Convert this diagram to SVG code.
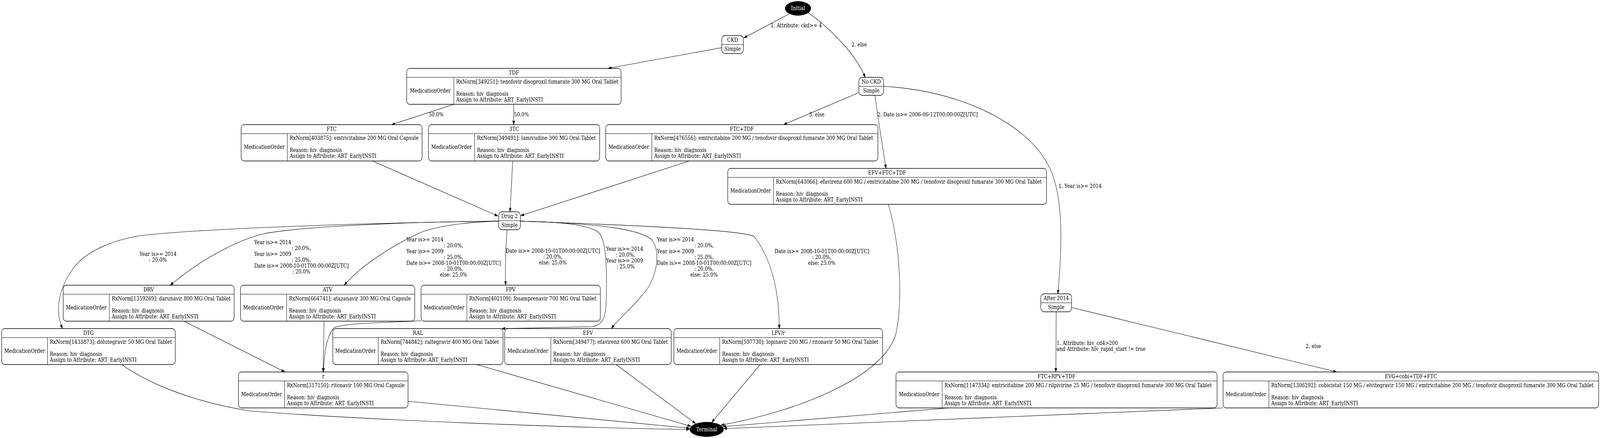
<svg xmlns="http://www.w3.org/2000/svg" width="4784" height="1121" viewBox="0 0 4784 1121" preserveAspectRatio="none">
<style>
svg{width:100vw;height:100vh;overflow:hidden}
.t{font-family:"DejaVu Serif","Liberation Serif",serif;font-size:14px;fill:#000}
.c{text-anchor:middle}
.w{fill:#fff}
.box{fill:none;stroke:#000;stroke-width:1.3}
.ln{stroke:#000;stroke-width:1.1}
.e{fill:none;stroke:#000;stroke-width:1.1;marker-end:url(#ah)}
</style>
<defs>
<marker id="ah" markerUnits="userSpaceOnUse" markerWidth="11" markerHeight="8" refX="10" refY="3.5" orient="auto" viewBox="0 0 11 8">
<path d="M0,0 L10,3.5 L0,7 z" fill="#000" stroke="#000" stroke-width="0.6"/>
</marker>
</defs>
<rect x="0" y="0" width="4784" height="1121" fill="#fff"/>
<g id="edges">
<path class="e" d="M2359,36 L2224,97"/>
<path class="e" d="M2415,32 C2480,70 2560,140 2587,198"/>
<path class="e" d="M2158,122 L1818,175"/>
<path class="e" d="M1357,267 L1171,319"/>
<path class="e" d="M1536,267 L1536,319"/>
<path class="e" d="M2568,237 L2343,319"/>
<path class="e" d="M2616,244 C2628,320 2640,380 2649,431"/>
<path class="e" d="M2642,221 C2880,232 3070,320 3131,418 C3175,480 3180,600 3163,752"/>
<path class="e" d="M1114,412 L1489,553"/>
<path class="e" d="M1533,412 L1525,542"/>
<path class="e" d="M2061,412 L1557,552"/>
<path class="e" d="M1491,566 C1100,570 600,585 421,603 C330,615 260,645 225,680 C180,730 160,790 187,841"/>
<path class="e" d="M1491,566 C1200,568 900,580 790,598 C730,610 620,650 509,730"/>
<path class="e" d="M1491,566 C1400,568 1300,578 1250,598 C1170,630 1080,680 1029,730"/>
<path class="e" d="M1516,588 C1512,640 1510,690 1512,730"/>
<path class="e" d="M1556,566 C1680,568 1760,575 1790,595 C1812,615 1815,680 1813,760 C1812,810 1805,832 1770,836 L1500,841"/>
<path class="e" d="M1556,566 C1800,572 1920,588 1950,615 C1975,645 1965,700 1935,740 C1890,790 1850,815 1828,841"/>
<path class="e" d="M1556,566 C1950,578 2220,590 2255,605 C2295,650 2330,720 2330,841"/>
<path class="e" d="M550,822 L852,952"/>
<path class="e" d="M969,822 L966,952"/>
<path class="e" d="M1259,821 C1150,826 1040,826 1000,838 C975,860 969,910 967,952"/>
<path class="e" d="M3158,798 L3157,952"/>
<path class="e" d="M3204,787 L3997,952"/>
<path class="e" d="M364,933 C440,980 580,1030 750,1052 C1100,1075 1700,1095 2062,1099"/>
<path class="e" d="M1220,1027 L2062,1096"/>
<path class="e" d="M1425,933 L2066,1091"/>
<path class="e" d="M1842,933 L2080,1084"/>
<path class="e" d="M2273,933 L2128,1081"/>
<path class="e" d="M2656,523 C2690,620 2700,760 2680,850 C2650,960 2400,1050 2156,1088"/>
<path class="e" d="M2837,1044 L2161,1092"/>
<path class="e" d="M3657,1044 L2164,1097"/>
<text class="t" x="2304" y="70">1. Attribute: ckd&gt;= 4</text>
<text class="t" x="2546" y="119">2. else</text>
<text class="t c" x="1304" y="298">50.0%</text>
<text class="t c" x="1559" y="298">50.0%</text>
<text class="t" x="2419" y="298">3. else</text>
<text class="t" x="2623" y="298">2. Date is&gt;= 2006-06-12T00:00:00Z[UTC]</text>
<text class="t" x="3165" y="481">1. Year is&gt;= 2014</text>
<text class="t" x="417" y="655">Year is&gt;= 2014</text>
<text class="t c" x="472" y="670">: 20.0%</text>
<text class="t" x="760" y="625">Year is&gt;= 2014</text>
<text class="t c" x="901" y="640">: 20.0%,</text>
<text class="t" x="760" y="655">Year is&gt;= 2009</text>
<text class="t c" x="901" y="670">: 25.0%,</text>
<text class="t" x="760" y="685">Date is&gt;= 2008-10-01T00:00:00Z[UTC]</text>
<text class="t c" x="901" y="700">: 20.0%</text>
<text class="t" x="1215" y="618">Year is&gt;= 2014</text>
<text class="t c" x="1356" y="633">: 20.0%,</text>
<text class="t" x="1215" y="648">Year is&gt;= 2009</text>
<text class="t c" x="1356" y="663">: 25.0%,</text>
<text class="t" x="1215" y="678">Date is&gt;= 2008-10-01T00:00:00Z[UTC]</text>
<text class="t c" x="1356" y="693">: 20.0%,</text>
<text class="t c" x="1356" y="708">else: 25.0%</text>
<text class="t" x="1512" y="647">Date is&gt;= 2008-10-01T00:00:00Z[UTC]</text>
<text class="t c" x="1653" y="662">: 20.0%,</text>
<text class="t c" x="1653" y="677">else: 25.0%</text>
<text class="t" x="1812" y="642">Year is&gt;= 2014</text>
<text class="t c" x="1870" y="657">: 20.0%,</text>
<text class="t" x="1812" y="672">Year is&gt;= 2009</text>
<text class="t c" x="1870" y="687">: 25.0%</text>
<text class="t" x="1964" y="618">Year is&gt;= 2014</text>
<text class="t c" x="2105" y="633">: 20.0%,</text>
<text class="t" x="1964" y="648">Year is&gt;= 2009</text>
<text class="t c" x="2105" y="663">: 25.0%,</text>
<text class="t" x="1964" y="678">Date is&gt;= 2008-10-01T00:00:00Z[UTC]</text>
<text class="t c" x="2105" y="693">: 20.0%,</text>
<text class="t c" x="2105" y="708">else: 25.0%</text>
<text class="t" x="2316" y="648">Date is&gt;= 2008-10-01T00:00:00Z[UTC]</text>
<text class="t c" x="2457" y="663">: 20.0%,</text>
<text class="t c" x="2457" y="678">else: 25.0%</text>
<text class="t" x="3159" y="883">1. Attribute: hiv_cd4&gt;200</text>
<text class="t" x="3159" y="898">and Attribute: hiv_rapid_start != true</text>
<text class="t" x="3904" y="891">2. else</text>
</g>
<g id="n-initial">
<ellipse cx="2386" cy="21.5" rx="39" ry="18.5" fill="#000"/>
<text class="t c w" x="2386" y="26.5">Initial</text>
</g>
<g id="n-terminal">
<ellipse cx="2113" cy="1099" rx="51" ry="19" fill="#000"/>
<text class="t c w" x="2113" y="1104">Terminal</text>
</g>
<g id="n-ckd">
<rect class="box" x="2158" y="91" width="65" height="46" rx="10"/>
<line class="ln" x1="2158" y1="114" x2="2223" y2="114"/>
<text class="t c" x="2190.5" y="107.5">CKD</text>
<text class="t c" x="2190.5" y="130.5">Simple</text>
</g>
<g id="n-nockd">
<rect class="box" x="2568" y="198" width="74" height="46" rx="10"/>
<line class="ln" x1="2568" y1="221" x2="2642" y2="221"/>
<text class="t c" x="2605" y="214.5">No CKD</text>
<text class="t c" x="2605" y="237.5">Simple</text>
</g>
<g id="n-drug2">
<rect class="box" x="1491" y="542" width="65" height="46" rx="10"/>
<line class="ln" x1="1491" y1="565" x2="1556" y2="565"/>
<text class="t c" x="1523.5" y="558.5">Drug 2</text>
<text class="t c" x="1523.5" y="581.5">Simple</text>
</g>
<g id="n-after2014">
<rect class="box" x="3112" y="752" width="92" height="46" rx="10"/>
<line class="ln" x1="3112" y1="775" x2="3204" y2="775"/>
<text class="t c" x="3158" y="768.5">After 2014</text>
<text class="t c" x="3158" y="791.5">Simple</text>
</g>
<g id="n-tdf">
<rect class="box" x="1216" y="175" width="641" height="92" rx="9"/>
<line class="ln" x1="1216" y1="198" x2="1857" y2="198"/>
<line class="ln" x1="1357" y1="198" x2="1357" y2="267"/>
<text class="t c" x="1536.5" y="191.5">TDF</text>
<text class="t c" x="1286.5" y="237.5">MedicationOrder</text>
<text class="t" x="1364" y="214.5">RxNorm[349251]: tenofovir disoproxil fumarate 300 MG Oral Tablet</text>
<text class="t" x="1364" y="245">Reason: hiv_diagnosis</text>
<text class="t" x="1364" y="260">Assign to Attribute: ART_EarlyINSTI</text>
</g>
<g id="n-ftc">
<rect class="box" x="721" y="319" width="541" height="93" rx="9"/>
<line class="ln" x1="721" y1="342" x2="1262" y2="342"/>
<line class="ln" x1="859" y1="342" x2="859" y2="412"/>
<text class="t c" x="991.5" y="335.5">FTC</text>
<text class="t c" x="790" y="381.5">MedicationOrder</text>
<text class="t" x="866" y="358.5">RxNorm[403875]: emtricitabine 200 MG Oral Capsule</text>
<text class="t" x="866" y="389">Reason: hiv_diagnosis</text>
<text class="t" x="866" y="404">Assign to Attribute: ART_EarlyINSTI</text>
</g>
<g id="n-3tc">
<rect class="box" x="1281" y="319" width="512" height="93" rx="9"/>
<line class="ln" x1="1281" y1="342" x2="1793" y2="342"/>
<line class="ln" x1="1419" y1="342" x2="1419" y2="412"/>
<text class="t c" x="1537" y="335.5">3TC</text>
<text class="t c" x="1350" y="381.5">MedicationOrder</text>
<text class="t" x="1426" y="358.5">RxNorm[349491]: lamivudine 300 MG Oral Tablet</text>
<text class="t" x="1426" y="389">Reason: hiv_diagnosis</text>
<text class="t" x="1426" y="404">Assign to Attribute: ART_EarlyINSTI</text>
</g>
<g id="n-ftctdf">
<rect class="box" x="1811" y="319" width="814" height="93" rx="9"/>
<line class="ln" x1="1811" y1="342" x2="2625" y2="342"/>
<line class="ln" x1="1949" y1="342" x2="1949" y2="412"/>
<text class="t c" x="2218" y="335.5">FTC+TDF</text>
<text class="t c" x="1880" y="381.5">MedicationOrder</text>
<text class="t" x="1956" y="358.5">RxNorm[476556]: emtricitabine 200 MG / tenofovir disoproxil fumarate 300 MG Oral Tablet</text>
<text class="t" x="1956" y="389">Reason: hiv_diagnosis</text>
<text class="t" x="1956" y="404">Assign to Attribute: ART_EarlyINSTI</text>
</g>
<g id="n-efvftctdf">
<rect class="box" x="2176" y="431" width="953" height="92" rx="9"/>
<line class="ln" x1="2176" y1="454" x2="3129" y2="454"/>
<line class="ln" x1="2313" y1="454" x2="2313" y2="523"/>
<text class="t c" x="2652.5" y="447.5">EFV+FTC+TDF</text>
<text class="t c" x="2244.5" y="493.5">MedicationOrder</text>
<text class="t" x="2320" y="470.5">RxNorm[643066]: efavirenz 600 MG / emtricitabine 200 MG / tenofovir disoproxil fumarate 300 MG Oral Tablet</text>
<text class="t" x="2320" y="501">Reason: hiv_diagnosis</text>
<text class="t" x="2320" y="516">Assign to Attribute: ART_EarlyINSTI</text>
</g>
<g id="n-drv">
<rect class="box" x="189" y="730" width="511" height="92" rx="9"/>
<line class="ln" x1="189" y1="753" x2="700" y2="753"/>
<line class="ln" x1="327" y1="753" x2="327" y2="822"/>
<text class="t c" x="444.5" y="746.5">DRV</text>
<text class="t c" x="258" y="792.5">MedicationOrder</text>
<text class="t" x="334" y="769.5">RxNorm[1359269]: darunavir 800 MG Oral Tablet</text>
<text class="t" x="334" y="800">Reason: hiv_diagnosis</text>
<text class="t" x="334" y="815">Assign to Attribute: ART_EarlyINSTI</text>
</g>
<g id="n-atv">
<rect class="box" x="719" y="730" width="521" height="92" rx="9"/>
<line class="ln" x1="719" y1="753" x2="1240" y2="753"/>
<line class="ln" x1="857" y1="753" x2="857" y2="822"/>
<text class="t c" x="979.5" y="746.5">ATV</text>
<text class="t c" x="788" y="792.5">MedicationOrder</text>
<text class="t" x="864" y="769.5">RxNorm[664741]: atazanavir 300 MG Oral Capsule</text>
<text class="t" x="864" y="800">Reason: hiv_diagnosis</text>
<text class="t" x="864" y="815">Assign to Attribute: ART_EarlyINSTI</text>
</g>
<g id="n-fpv">
<rect class="box" x="1259" y="730" width="536" height="92" rx="9"/>
<line class="ln" x1="1259" y1="753" x2="1795" y2="753"/>
<line class="ln" x1="1396" y1="753" x2="1396" y2="822"/>
<text class="t c" x="1527" y="746.5">FPV</text>
<text class="t c" x="1327.5" y="792.5">MedicationOrder</text>
<text class="t" x="1403" y="769.5">RxNorm[402109]: fosamprenavir 700 MG Oral Tablet</text>
<text class="t" x="1403" y="800">Reason: hiv_diagnosis</text>
<text class="t" x="1403" y="815">Assign to Attribute: ART_EarlyINSTI</text>
</g>
<g id="n-dtg">
<rect class="box" x="5" y="841" width="519" height="92" rx="9"/>
<line class="ln" x1="5" y1="864" x2="524" y2="864"/>
<line class="ln" x1="142" y1="864" x2="142" y2="933"/>
<text class="t c" x="264.5" y="857.5">DTG</text>
<text class="t c" x="73.5" y="903.5">MedicationOrder</text>
<text class="t" x="149" y="880.5">RxNorm[1433873]: dolutegravir 50 MG Oral Tablet</text>
<text class="t" x="149" y="911">Reason: hiv_diagnosis</text>
<text class="t" x="149" y="926">Assign to Attribute: ART_EarlyINSTI</text>
</g>
<g id="n-ral">
<rect class="box" x="995" y="841" width="509" height="92" rx="9"/>
<line class="ln" x1="995" y1="864" x2="1504" y2="864"/>
<line class="ln" x1="1131" y1="864" x2="1131" y2="933"/>
<text class="t c" x="1249.5" y="857.5">RAL</text>
<text class="t c" x="1063" y="903.5">MedicationOrder</text>
<text class="t" x="1138" y="880.5">RxNorm[744842]: raltegravir 400 MG Oral Tablet</text>
<text class="t" x="1138" y="911">Reason: hiv_diagnosis</text>
<text class="t" x="1138" y="926">Assign to Attribute: ART_EarlyINSTI</text>
</g>
<g id="n-efv">
<rect class="box" x="1509" y="841" width="498" height="92" rx="9"/>
<line class="ln" x1="1509" y1="864" x2="2007" y2="864"/>
<line class="ln" x1="1647" y1="864" x2="1647" y2="933"/>
<text class="t c" x="1758" y="857.5">EFV</text>
<text class="t c" x="1578" y="903.5">MedicationOrder</text>
<text class="t" x="1654" y="880.5">RxNorm[349477]: efavirenz 600 MG Oral Tablet</text>
<text class="t" x="1654" y="911">Reason: hiv_diagnosis</text>
<text class="t" x="1654" y="926">Assign to Attribute: ART_EarlyINSTI</text>
</g>
<g id="n-lpvr">
<rect class="box" x="2015" y="841" width="624" height="92" rx="9"/>
<line class="ln" x1="2015" y1="864" x2="2639" y2="864"/>
<line class="ln" x1="2152" y1="864" x2="2152" y2="933"/>
<text class="t c" x="2327" y="857.5">LPV/r</text>
<text class="t c" x="2083.5" y="903.5">MedicationOrder</text>
<text class="t" x="2159" y="880.5">RxNorm[597730]: lopinavir 200 MG / ritonavir 50 MG Oral Tablet</text>
<text class="t" x="2159" y="911">Reason: hiv_diagnosis</text>
<text class="t" x="2159" y="926">Assign to Attribute: ART_EarlyINSTI</text>
</g>
<g id="n-r">
<rect class="box" x="713" y="952" width="507" height="92" rx="9"/>
<line class="ln" x1="713" y1="975" x2="1220" y2="975"/>
<line class="ln" x1="851" y1="975" x2="851" y2="1044"/>
<text class="t c" x="966.5" y="968.5">r</text>
<text class="t c" x="782" y="1014.5">MedicationOrder</text>
<text class="t" x="858" y="991.5">RxNorm[317150]: ritonavir 100 MG Oral Capsule</text>
<text class="t" x="858" y="1022">Reason: hiv_diagnosis</text>
<text class="t" x="858" y="1037">Assign to Attribute: ART_EarlyINSTI</text>
</g>
<g id="n-ftcrpvtdf">
<rect class="box" x="2679" y="952" width="960" height="92" rx="9"/>
<line class="ln" x1="2679" y1="975" x2="3639" y2="975"/>
<line class="ln" x1="2817" y1="975" x2="2817" y2="1044"/>
<text class="t c" x="3159" y="968.5">FTC+RPV+TDF</text>
<text class="t c" x="2748" y="1014.5">MedicationOrder</text>
<text class="t" x="2824" y="991.5">RxNorm[1147334]: emtricitabine 200 MG / rilpivirine 25 MG / tenofovir disoproxil fumarate 300 MG Oral Tablet</text>
<text class="t" x="2824" y="1022">Reason: hiv_diagnosis</text>
<text class="t" x="2824" y="1037">Assign to Attribute: ART_EarlyINSTI</text>
</g>
<g id="n-evg">
<rect class="box" x="3657" y="952" width="1123" height="92" rx="9"/>
<line class="ln" x1="3657" y1="975" x2="4780" y2="975"/>
<line class="ln" x1="3794" y1="975" x2="3794" y2="1044"/>
<text class="t c" x="4218.5" y="968.5">EVG+cobi+TDF+FTC</text>
<text class="t c" x="3725.5" y="1014.5">MedicationOrder</text>
<text class="t" x="3801" y="991.5">RxNorm[1306292]: cobicistat 150 MG / elvitegravir 150 MG / emtricitabine 200 MG / tenofovir disoproxil fumarate 300 MG Oral Tablet</text>
<text class="t" x="3801" y="1022">Reason: hiv_diagnosis</text>
<text class="t" x="3801" y="1037">Assign to Attribute: ART_EarlyINSTI</text>
</g>
</svg>
